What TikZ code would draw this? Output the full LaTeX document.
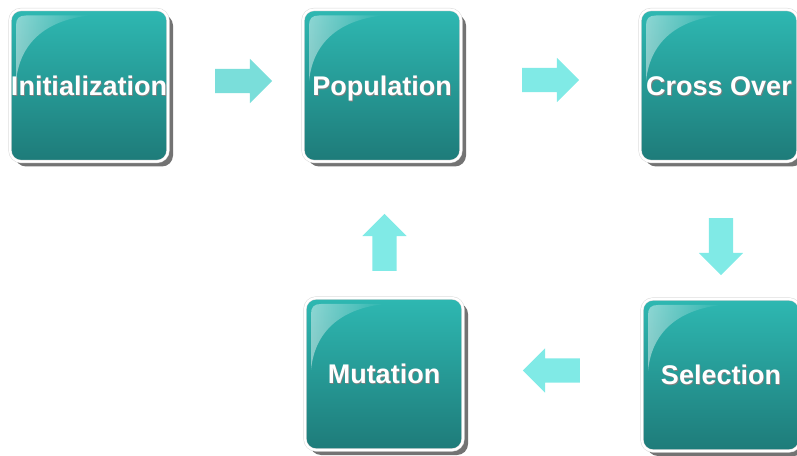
\documentclass[tikz,border=0pt]{standalone}
\usepackage{fontspec}
\setmainfont{Liberation Sans}
\usepackage{xcolor}
\usepackage{tikz}
\usetikzlibrary{shapes,arrows,shadows,fadings,calc}

\definecolor{tealtop}{RGB}{46,184,178}
\definecolor{tealbot}{RGB}{30,123,121}
\definecolor{arrowcyan}{RGB}{128,234,230}
\definecolor{arrowdim}{RGB}{122,222,218}

\tikzfading[name=glossfade, left color=transparent!25, right color=transparent!100]

\newcommand{\glowtext}[1]{\rlap{\kern0.9pt\raisebox{-0.9pt}{\color{black!50}#1}}#1}

\tikzset{
  stagebox/.style={rectangle, rounded corners=11pt, minimum width=158pt, minimum height=152pt,
    top color=tealtop, bottom color=tealbot,
    draw=black!15, double=white, double distance=2.2pt, line width=0.5pt,
    text=white, font=\fontsize{27}{27}\selectfont\bfseries, text height=19.5pt, text depth=0pt, inner sep=0pt,
    drop shadow={shadow xshift=5pt, shadow yshift=-5pt, fill=black!55, opacity=1},
    path picture={
      \coordinate (gl) at (path picture bounding box.north west);
      \fill[white, fill opacity=0.6, path fading=glossfade, rounded corners=0pt]
        ($(gl)+(6pt,-72pt)$) -- ($(gl)+(6pt,-16pt)$)
        .. controls ($(gl)+(6pt,-9pt)$) and ($(gl)+(9pt,-6pt)$) .. ($(gl)+(16pt,-6pt)$)
        -- ($(gl)+(80pt,-6pt)$)
        .. controls ($(gl)+(40pt,-10pt)$) and ($(gl)+(10pt,-30pt)$) .. cycle;
    }},
  flowarrow/.style={single arrow, single arrow head extend=10pt, single arrow head indent=0pt,
    minimum height=57pt, inner xsep=0pt, inner ysep=12pt, fill=arrowcyan, draw=none}
}

\begin{document}
\begin{tikzpicture}[x=1pt,y=1pt]
    \clip (0,0) rectangle (797,455);

    % Top row
    \node[stagebox] (init) at (89,369.5) {\glowtext{Initialization}};
    \node[stagebox] (pop) at (382,369.5) {\glowtext{Population}};
    \node[stagebox] (cross) at (719,369.5) {\glowtext{Cross Over}};

    % Bottom row
    \node[stagebox] (sel) at (721,80) {\glowtext{Selection}};
    \node[stagebox] (mut) at (384,81) {\glowtext{Mutation}};

    % Arrows
    \node[flowarrow, fill=arrowdim] (a1) at (237.5,374) {};
    \node[flowarrow] (a2) at (544.5,375) {};
    \node[flowarrow, rotate=-90] (a3) at (721,214.5) {};
    \node[flowarrow, rotate=180] (a4) at (557.5,84.5) {};
    \node[flowarrow, rotate=90] (a5) at (384.5,206.5) {};
\end{tikzpicture}
\end{document}
